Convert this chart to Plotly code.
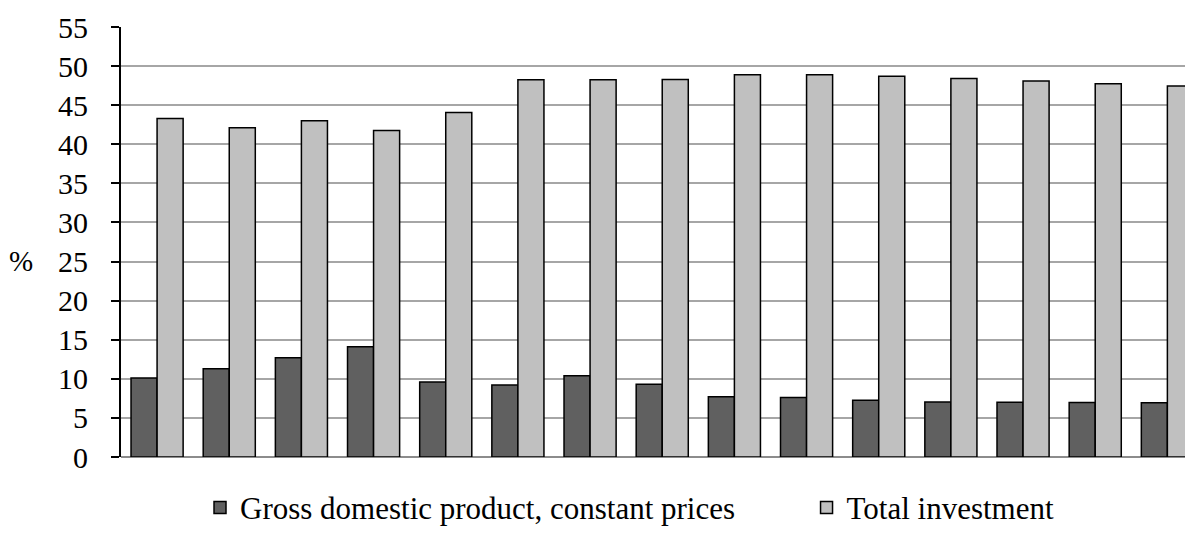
import plotly.graph_objects as go

categories = [f"c{i}" for i in range(1, 16)]
gdp = [10.1, 11.3, 12.7, 14.1, 9.6, 9.2, 10.4, 9.3, 7.7, 7.6, 7.25, 7.05, 7.0, 6.96, 6.95]
investment = [43.3, 42.1, 43.0, 41.75, 44.05, 48.25, 48.25, 48.3, 48.9, 48.9, 48.7, 48.4, 48.1, 47.75, 47.45]
y_ticks = list(range(0, 56, 5))

FONT = "Liberation Serif, Times New Roman, DejaVu Serif, serif"

x_pos = list(range(len(categories)))

fig = go.Figure()
fig.add_trace(go.Bar(
    x=x_pos, y=gdp, name="Gross domestic product, constant prices",
    marker=dict(color="#606060", line=dict(color="#000000", width=1.5)),
    legend="legend",
))
fig.add_trace(go.Bar(
    x=x_pos, y=investment, name="Total investment",
    marker=dict(color="#c0c0c0", line=dict(color="#000000", width=1.5)),
    legend="legend2",
))

fig.update_layout(
    width=1185, height=527,
    margin=dict(l=113, r=0, t=19, b=68, pad=0),
    paper_bgcolor="white", plot_bgcolor="white",
    barmode="group", bargap=0.278, bargroupgap=0,
    font=dict(family=FONT, color="#000000"),
    xaxis=dict(
        range=[-0.5, 14.355], showticklabels=False, showgrid=False, zeroline=False,
        showline=False, ticks="",
    ),
    yaxis=dict(
        range=[0, 55], tickvals=y_ticks, ticktext=[str(v) for v in y_ticks],
        showgrid=True, gridcolor="#a6a6a6", gridwidth=1.5,
        zeroline=True, zerolinecolor="#8c8c8c", zerolinewidth=1.5,
        showline=True, linecolor="#000000", linewidth=2,
        ticks="outside", ticklen=8, tickcolor="#000000", tickwidth=1.5,
        ticklabelstandoff=17,
        tickfont=dict(family=FONT, size=30, color="#000000"),
    ),
    legend=dict(
        orientation="h", x=0.0737, y=-0.118, xanchor="left", yanchor="middle",
        font=dict(family=FONT, size=31, color="#000000"), itemwidth=30,
        bgcolor="rgba(0,0,0,0)",
    ),
    legend2=dict(
        orientation="h", x=0.6395, y=-0.118, xanchor="left", yanchor="middle",
        font=dict(family=FONT, size=31, color="#000000"), itemwidth=30,
        bgcolor="rgba(0,0,0,0)",
    ),
    annotations=[dict(
        text="%", xref="paper", yref="paper", x=-0.0933, y=0.456,
        xanchor="center", yanchor="middle", showarrow=False,
        font=dict(family=FONT, size=29, color="#000000"),
    )],
    showlegend=True,
)

fig.write_html("out.html")
